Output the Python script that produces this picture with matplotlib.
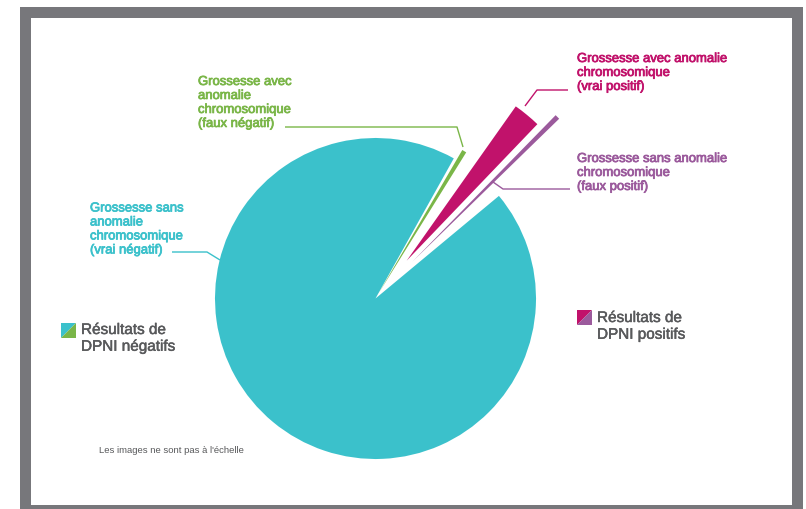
import matplotlib
matplotlib.use("Agg")
import matplotlib.pyplot as plt
from matplotlib.patches import Wedge, Rectangle, Polygon
import matplotlib.patheffects as pe
import numpy as np

# ---------------- data ----------------
slice_labels = [
    "Grossesse sans\nanomalie\nchromosomique\n(vrai négatif)",
    "Grossesse avec\nanomalie\nchromosomique\n(faux négatif)",
    "Grossesse avec anomalie\nchromosomique\n(vrai positif)",
    "Grossesse sans anomalie\nchromosomique\n(faux positif)",
]
# share of the circle (%), images not to scale
slice_shares = [94.15, 0.44, 2.36, 0.39]
legend_labels = ["Résultats de\nDPNI négatifs", "Résultats de\nDPNI positifs"]
footnote = "Les images ne sont pas à l'échelle"

# ---------------- style / layout ----------------
W, H = 806, 510
colors = ["#3bc1cb", "#7ab648", "#c1126b", "#9b5a9c"]
radii = [160.5, 166, 189, 205]
explode = [0, 6, 49, 52]
draw_order = [0, 3, 2, 1]           # counter-clockwise order of slices
gaps_after = [4.5, 0.6, 3.4, 1.1]   # white gaps (degrees) after each slice
start_angle = 60.8
center = (375.5, 299.5)             # screen pixels
font = "Liberation Sans"


def Y(y):
    return H - y


fig = plt.figure(figsize=(W / 100, H / 100), dpi=100)
ax = fig.add_axes([0, 0, 1, 1])
ax.set_xlim(0, W)
ax.set_ylim(0, H)
ax.axis("off")

# frame
ax.add_patch(Rectangle((20, Y(510)), 783, 502, facecolor="#77777b", edgecolor="none", zorder=0))
ax.add_patch(Rectangle((31, Y(506)), 761, 487, facecolor="white", edgecolor="none", zorder=0.5))

# wedges
theta = start_angle
cx, cy = center[0], Y(center[1])
for k, idx in enumerate(draw_order):
    span = slice_shares[idx] / 100.0 * 360.0
    t1, t2 = theta, theta + span
    mid = np.deg2rad((t1 + t2) / 2)
    ox = cx + explode[idx] * np.cos(mid)
    oy = cy + explode[idx] * np.sin(mid)
    ax.add_patch(Wedge((ox, oy), radii[idx], t1, t2, facecolor=colors[idx],
                       edgecolor="none", zorder=2))
    theta = t2 + gaps_after[k]

# leader lines (screen px)
leaders = [
    ([172, 207, 220], [253, 253, 261]),
    ([285, 457, 463], [128, 128, 148]),
    ([568, 537, 525], [91, 91, 107]),
    ([570, 503, 493], [190, 190, 183]),
]
for (xs, ys), c in zip(leaders, colors):
    ax.plot(xs, [Y(v) for v in ys], color=c, lw=1.0, zorder=3, solid_capstyle="butt")

# labels
label_pos = [(90, 203.5), (198, 77), (577, 54), (577, 154)]
for txt, (x, y), c in zip(slice_labels, label_pos, colors):
    ax.text(x, Y(y), txt, color=c, fontsize=9.4, family=font, ha="left", va="top",
            linespacing=1.22, zorder=4,
            path_effects=[pe.withStroke(linewidth=0.55, foreground=c)])

# legend markers: split squares
def split_square(x0, y0, s, c1, c2):
    ax.add_patch(Polygon([(x0, Y(y0)), (x0 + s, Y(y0)), (x0, Y(y0 + s))],
                         closed=True, facecolor=c1, edgecolor="none", zorder=3))
    ax.add_patch(Polygon([(x0 + s, Y(y0)), (x0 + s, Y(y0 + s)), (x0, Y(y0 + s))],
                         closed=True, facecolor=c2, edgecolor="none", zorder=3))

split_square(61, 324, 15, colors[0], colors[1])
split_square(577, 311, 15, colors[2], colors[3])
for txt, (x, y) in zip(legend_labels, [(81, 324), (597, 312)]):
    ax.text(x, Y(y), txt, color="#58595b", fontsize=11, family=font,
            ha="left", va="top", linespacing=1.25, zorder=4,
            path_effects=[pe.withStroke(linewidth=0.35, foreground="#58595b")])

ax.text(99, Y(446), footnote, color="#58595b", fontsize=6.8, family=font,
        ha="left", va="top", zorder=4)

fig.savefig("out.png", dpi=100, facecolor="white")
